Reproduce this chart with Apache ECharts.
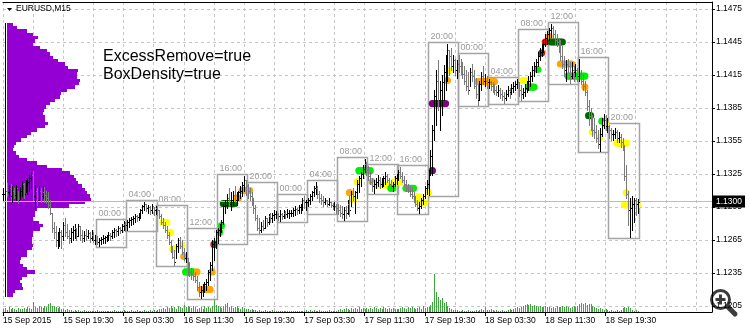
<!DOCTYPE html>
<html><head><meta charset="utf-8">
<script src="https://cdn.jsdelivr.net/npm/echarts@6/dist/echarts.min.js"></script>
<style>html,body{margin:0;padding:0;background:#fff}#c{width:750px;height:329px}</style>
</head><body><div id="c"></div>
<script>
// ---------- data ----------
const timeLabels = ['15 Sep 2015','15 Sep 19:30','16 Sep 03:30','16 Sep 11:30','16 Sep 19:30','17 Sep 03:30','17 Sep 11:30','17 Sep 19:30','18 Sep 03:30','18 Sep 11:30','18 Sep 19:30'];
const labelBars = [0,32,64,96,128,160,192,224,256,288,320];
const boxLabels = ['00:00','04:00','08:00','12:00','16:00','20:00','00:00','04:00','08:00','12:00','16:00','20:00','00:00','04:00','08:00','12:00','16:00','20:00'];
const boxFirstBar = 50, barsPerBox = 16;
const lastPrice = 1.1300;
const priceMin = 1.1205, priceMax = 1.1475, priceStep = 0.003;

const highs = [
1.1312,1.1314,1.1317,1.1315,1.1316,1.1314,1.1312,1.1315,1.1310,1.1313,
1.1319,1.1317,1.1320,1.1321,1.1324,1.1327,1.1328,1.1315,1.1312,1.1314,
1.1312,1.1314,1.1313,1.1310,1.1309,1.1301,1.1290,1.1281,1.1278,1.1272,
1.1276,1.1274,1.1281,1.1285,1.1280,1.1274,1.1276,1.1278,1.1280,1.1276,
1.1280,1.1278,1.1274,1.1273,1.1275,1.1274,1.1272,1.1274,1.1272,1.1270,
1.1269,1.1267,1.1268,1.1270,1.1269,1.1270,1.1272,1.1271,1.1274,1.1276,
1.1275,1.1278,1.1277,1.1280,1.1282,1.1281,1.1283,1.1285,1.1286,1.1287,
1.1289,1.1288,1.1290,1.1293,1.1297,1.1300,1.1298,1.1297,1.1296,1.1298,
1.1295,1.1296,1.1295,1.1292,1.1289,1.1285,1.1281,1.1278,1.1272,1.1265,
1.1260,1.1256,1.1261,1.1267,1.1268,1.1265,1.1258,1.1254,1.1249,1.1245,
1.1240,1.1238,1.1236,1.1232,1.1227,1.1223,1.1225,1.1227,1.1230,1.1238,
1.1245,1.1265,1.1267,1.1274,1.1276,1.1280,1.1283,1.1298,1.1301,1.1307,
1.1312,1.1309,1.1310,1.1314,1.1309,1.1310,1.1314,1.1318,1.1323,1.1320,
1.1316,1.1312,1.1309,1.1303,1.1297,1.1288,1.1285,1.1281,1.1283,1.1287,
1.1285,1.1289,1.1290,1.1290,1.1292,1.1291,1.1290,1.1292,1.1290,1.1292,
1.1291,1.1293,1.1292,1.1292,1.1294,1.1296,1.1294,1.1297,1.1298,1.1303,
1.1305,1.1301,1.1303,1.1307,1.1310,1.1314,1.1318,1.1314,1.1310,1.1307,
1.1305,1.1303,1.1301,1.1303,1.1300,1.1299,1.1300,1.1298,1.1298,1.1297,
1.1296,1.1295,1.1296,1.1301,1.1305,1.1310,1.1312,1.1310,1.1320,1.1323,
1.1327,1.1333,1.1339,1.1336,1.1332,1.1327,1.1321,1.1320,1.1321,1.1324,
1.1322,1.1321,1.1323,1.1327,1.1325,1.1321,1.1320,1.1318,1.1323,1.1325,
1.1329,1.1331,1.1327,1.1323,1.1320,1.1316,1.1314,1.1312,1.1309,1.1305,
1.1301,1.1300,1.1303,1.1307,1.1314,1.1320,1.1329,1.1347,1.1370,1.1401,
1.1420,1.1429,1.1410,1.1415,1.1424,1.1433,1.1443,1.1438,1.1440,1.1433,
1.1430,1.1429,1.1433,1.1430,1.1427,1.1423,1.1420,1.1418,1.1421,1.1425,
1.1420,1.1412,1.1407,1.1410,1.1418,1.1423,1.1416,1.1414,1.1411,1.1410,
1.1409,1.1407,1.1405,1.1406,1.1403,1.1401,1.1400,1.1401,1.1405,1.1403,
1.1407,1.1409,1.1410,1.1411,1.1409,1.1406,1.1403,1.1407,1.1410,1.1414,
1.1418,1.1423,1.1427,1.1430,1.1436,1.1440,1.1443,1.1447,1.1452,1.1455,
1.1458,1.1461,1.1460,1.1456,1.1452,1.1449,1.1447,1.1441,1.1432,1.1429,
1.1430,1.1427,1.1427,1.1423,1.1425,1.1421,1.1430,1.1420,1.1416,1.1410,
1.1401,1.1392,1.1385,1.1379,1.1376,1.1370,1.1365,1.1367,1.1376,1.1380,
1.1379,1.1376,1.1370,1.1367,1.1365,1.1367,1.1365,1.1363,1.1361,1.1358,
1.1351,1.1333,1.1310,1.1303,1.1305,1.1303,1.1303,1.1302];

const lows = [
1.1301,1.1303,1.1305,1.1304,1.1301,1.1300,1.1303,1.1301,1.1299,1.1302,
1.1305,1.1303,1.1309,1.1307,1.1310,1.1312,1.1301,1.1294,1.1297,1.1301,
1.1300,1.1303,1.1300,1.1299,1.1294,1.1289,1.1272,1.1267,1.1260,1.1258,
1.1260,1.1258,1.1265,1.1269,1.1267,1.1262,1.1263,1.1265,1.1267,1.1265,
1.1269,1.1265,1.1263,1.1264,1.1265,1.1267,1.1263,1.1265,1.1263,1.1261,
1.1261,1.1260,1.1261,1.1262,1.1262,1.1264,1.1265,1.1265,1.1267,1.1268,
1.1269,1.1270,1.1271,1.1272,1.1274,1.1273,1.1274,1.1277,1.1279,1.1280,
1.1281,1.1282,1.1283,1.1285,1.1290,1.1292,1.1291,1.1290,1.1289,1.1290,
1.1288,1.1289,1.1288,1.1285,1.1280,1.1276,1.1272,1.1267,1.1261,1.1254,
1.1249,1.1242,1.1249,1.1254,1.1258,1.1252,1.1247,1.1245,1.1233,1.1232,
1.1230,1.1229,1.1227,1.1220,1.1214,1.1212,1.1214,1.1218,1.1220,1.1224,
1.1229,1.1238,1.1247,1.1258,1.1262,1.1269,1.1272,1.1280,1.1290,1.1294,
1.1296,1.1292,1.1297,1.1300,1.1297,1.1301,1.1303,1.1305,1.1310,1.1306,
1.1303,1.1301,1.1297,1.1290,1.1283,1.1274,1.1271,1.1272,1.1274,1.1276,
1.1278,1.1280,1.1281,1.1281,1.1283,1.1285,1.1283,1.1282,1.1284,1.1285,
1.1285,1.1286,1.1285,1.1287,1.1287,1.1288,1.1289,1.1290,1.1290,1.1292,
1.1294,1.1292,1.1296,1.1298,1.1301,1.1305,1.1307,1.1303,1.1300,1.1298,
1.1296,1.1298,1.1296,1.1297,1.1295,1.1293,1.1292,1.1290,1.1289,1.1287,
1.1285,1.1283,1.1285,1.1289,1.1287,1.1296,1.1301,1.1290,1.1303,1.1309,
1.1314,1.1321,1.1327,1.1324,1.1320,1.1316,1.1310,1.1308,1.1312,1.1314,
1.1312,1.1313,1.1314,1.1316,1.1318,1.1314,1.1311,1.1310,1.1314,1.1316,
1.1320,1.1321,1.1318,1.1314,1.1310,1.1309,1.1305,1.1303,1.1300,1.1296,
1.1292,1.1290,1.1294,1.1298,1.1303,1.1307,1.1306,1.1324,1.1324,1.1356,
1.1370,1.1383,1.1365,1.1379,1.1392,1.1401,1.1410,1.1415,1.1420,1.1418,
1.1415,1.1412,1.1418,1.1416,1.1412,1.1407,1.1401,1.1398,1.1405,1.1410,
1.1403,1.1394,1.1388,1.1392,1.1401,1.1407,1.1405,1.1403,1.1403,1.1401,
1.1400,1.1398,1.1397,1.1396,1.1394,1.1392,1.1390,1.1392,1.1396,1.1394,
1.1398,1.1400,1.1401,1.1403,1.1396,1.1392,1.1394,1.1396,1.1400,1.1401,
1.1405,1.1410,1.1414,1.1418,1.1423,1.1429,1.1432,1.1436,1.1441,1.1443,
1.1447,1.1450,1.1449,1.1443,1.1441,1.1436,1.1429,1.1421,1.1414,1.1410,
1.1418,1.1408,1.1412,1.1410,1.1414,1.1410,1.1410,1.1407,1.1401,1.1397,
1.1383,1.1370,1.1365,1.1360,1.1358,1.1354,1.1349,1.1346,1.1360,1.1367,
1.1365,1.1363,1.1358,1.1356,1.1356,1.1358,1.1354,1.1354,1.1350,1.1347,
1.1320,1.1303,1.1279,1.1268,1.1274,1.1281,1.1288,1.1290];

const closes = [
1.1307,1.1310,1.1309,1.1312,1.1305,1.1310,1.1306,1.1312,1.1301,1.1310,
1.1316,1.1307,1.1316,1.1318,1.1321,1.1324,1.1305,1.1310,1.1301,1.1310,
1.1305,1.1309,1.1306,1.1303,1.1297,1.1290,1.1276,1.1272,1.1265,1.1267,
1.1272,1.1269,1.1279,1.1272,1.1269,1.1267,1.1272,1.1274,1.1276,1.1269,
1.1278,1.1270,1.1267,1.1270,1.1269,1.1271,1.1267,1.1270,1.1265,1.1265,
1.1263,1.1265,1.1266,1.1267,1.1268,1.1269,1.1270,1.1269,1.1272,1.1274,
1.1273,1.1276,1.1274,1.1278,1.1280,1.1279,1.1281,1.1283,1.1284,1.1285,
1.1287,1.1286,1.1290,1.1292,1.1296,1.1298,1.1294,1.1295,1.1292,1.1296,
1.1292,1.1294,1.1292,1.1287,1.1281,1.1279,1.1274,1.1270,1.1263,1.1256,
1.1250,1.1245,1.1260,1.1265,1.1260,1.1254,1.1249,1.1249,1.1238,1.1236,
1.1234,1.1232,1.1229,1.1222,1.1218,1.1220,1.1221,1.1225,1.1227,1.1236,
1.1242,1.1261,1.1263,1.1272,1.1274,1.1278,1.1281,1.1296,1.1297,1.1303,
1.1298,1.1301,1.1306,1.1301,1.1305,1.1309,1.1310,1.1315,1.1320,1.1314,
1.1310,1.1305,1.1300,1.1294,1.1285,1.1276,1.1274,1.1278,1.1276,1.1285,
1.1281,1.1287,1.1285,1.1288,1.1289,1.1289,1.1287,1.1289,1.1287,1.1290,
1.1289,1.1290,1.1290,1.1290,1.1292,1.1293,1.1292,1.1295,1.1297,1.1301,
1.1300,1.1300,1.1301,1.1305,1.1309,1.1312,1.1312,1.1307,1.1303,1.1301,
1.1300,1.1301,1.1298,1.1300,1.1297,1.1296,1.1296,1.1294,1.1292,1.1290,
1.1289,1.1292,1.1290,1.1298,1.1292,1.1307,1.1305,1.1309,1.1316,1.1321,
1.1325,1.1330,1.1334,1.1329,1.1323,1.1318,1.1314,1.1316,1.1318,1.1320,
1.1316,1.1320,1.1321,1.1323,1.1320,1.1316,1.1314,1.1316,1.1321,1.1323,
1.1327,1.1323,1.1320,1.1316,1.1312,1.1310,1.1307,1.1305,1.1301,1.1298,
1.1294,1.1296,1.1301,1.1305,1.1312,1.1316,1.1325,1.1341,1.1365,1.1396,
1.1410,1.1392,1.1401,1.1409,1.1418,1.1427,1.1438,1.1432,1.1423,1.1429,
1.1420,1.1425,1.1423,1.1420,1.1416,1.1410,1.1405,1.1401,1.1418,1.1414,
1.1405,1.1398,1.1392,1.1407,1.1414,1.1410,1.1410,1.1409,1.1409,1.1405,
1.1403,1.1401,1.1400,1.1401,1.1398,1.1396,1.1394,1.1398,1.1401,1.1400,
1.1403,1.1405,1.1407,1.1409,1.1401,1.1398,1.1400,1.1403,1.1407,1.1410,
1.1414,1.1420,1.1423,1.1427,1.1432,1.1436,1.1440,1.1443,1.1449,1.1452,
1.1456,1.1458,1.1452,1.1447,1.1445,1.1440,1.1432,1.1425,1.1420,1.1425,
1.1423,1.1414,1.1420,1.1418,1.1420,1.1414,1.1416,1.1410,1.1405,1.1400,
1.1387,1.1378,1.1374,1.1365,1.1363,1.1358,1.1352,1.1361,1.1370,1.1374,
1.1369,1.1369,1.1365,1.1361,1.1361,1.1363,1.1358,1.1359,1.1354,1.1350,
1.1323,1.1307,1.1292,1.1294,1.1298,1.1301,1.1298,1.1300];

// tick volume (hundreds)
const volumes = [
3,4,2,5,3,4,3,2,4,3, 3,4,3,5,4,3, 10, 5,4,6,5,4,6,5, 8,9,6, 6,5,4,5,3,
3,2,3,2,2,1,2,1,2,
1,1,2,1,1,1,1,1,1,2,1,1,1,1,1,1,1,1,2,1,1,1,1,2,1,
1,1,2,1,1,2,1,1,1,2,1,1,2,1,2,1,
2,3,3,4,3,5,4,6,4,5,3,6,5,4,7,5,
6,5,4,6,5,3,4,5,3,6,4,5,4,6,13,7,
6,5,4,6,8,9,5,6,4,5,6,4,3,5,4,3,
3,2,3,2,2,1,2,1,1,2,1,1,1,2,1,1,
1,1,1,1,1,1,1,1,1,1,1,1,1,1,1,2,
1,2,1,2,1,1,2,1,1,1,1,2,1,1,1,1,
2,3,2,3,4,3,2,4,3,4,3,5,3,4,3,4,
3,4,3,5,4,3,4,3,5,4,3,4,3,4,3,3,
3,4,5,4,3,5,4,5,4,3,4,5,3,6,4,5,
5,7,10,38,20,15,12,14,9,10,6,4,3,2,2,2,
1,1,2,1,1,2,1,1,1,2,1,2,3,2,5,2,
2,3,2,1,2,1,1,2,1,1,2,3,2,3,4,5,
4,5,6,7,8,7,8,6,7,6,5,6,5,5,6,5,
5,4,5,4,6,5,5,6,5,6,5,4,5,6,5,6,
8,9,8,9,7,8,8,6,5,4,3,4,3,2,3,2,
1,2,1,1,2,1,2,4,5,4,5,4,2,1,2,1];

// volume profile (rows from top, price step 0.0003)
const profileTop = 1.1461, profileStep = 0.0003;
const profileLen = [
6,10,20,26,31,28,26,33,40,43,
46,51,58,61,71,70,70,73,72,68,
60,54,53,48,43,39,37,36,38,38,
41,38,30,24,20,14,9,7,6,9,
12,20,30,40,55,63,67,69,71,75,
78,80,83,84,78,62,30,28,28,26,
32,36,33,26,26,25,25,26,25,20,
20,14,13,16,20,28,20,15,13,15,
16,8,6];

// density markers: [firstBar, lastBar, price, colour]
const dotSegments = [
[85,87,1.1281,'yellow'],[89,89,1.1272,'yellow'],[90,91,1.1257,'yellow'],[94,95,1.1260,'yellow'],
[96,96,1.1250,'orange'],[97,101,1.1236,'green'],[103,103,1.1236,'orange'],[105,110,1.1220,'orange'],
[111,111,1.1236,'orange'],[112,112,1.1261,'red'],[115,115,1.1272,'green'],[116,116,1.1278,'green'],
[117,123,1.1298,'darkgreen'],[124,125,1.1303,'orange'],[127,131,1.1310,'orange'],
[184,184,1.1308,'orange'],[186,186,1.1302,'yellow'],[188,188,1.1318,'yellow'],[189,195,1.1328,'green'],
[196,196,1.1318,'orange'],[198,204,1.1315,'yellow'],[206,207,1.1312,'green'],[208,211,1.1318,'yellow'],
[214,218,1.1312,'green'],[219,221,1.1304,'yellow'],[221,224,1.1299,'yellow'],[226,226,1.1308,'yellow'],
[228,228,1.1328,'purple'],[228,235,1.1389,'purple'],[236,236,1.1410,'orange'],[237,237,1.1419,'yellow'],
[252,261,1.1409,'orange'],[276,278,1.1410,'yellow'],[279,282,1.1404,'green'],[284,284,1.1420,'green'],
[286,286,1.1435,'red'],[288,288,1.1445,'red'],[290,290,1.1450,'orange'],[291,297,1.1445,'darkgreen'],
[296,302,1.1425,'orange'],[300,309,1.1414,'green'],[309,309,1.1404,'orange'],[311,312,1.1378,'darkgreen'],
[313,313,1.1363,'yellow'],[317,317,1.1358,'yellow'],[318,318,1.1373,'green'],[320,320,1.1370,'yellow'],
[326,331,1.1353,'yellow'],[331,331,1.1308,'yellow'],[330,337,1.1297,'yellow']];
const dotColors = {yellow:'#ffff00',orange:'#ffa500',green:'#00ee00',darkgreen:'#006400',red:'#ff0000',purple:'#800080'};

// ---------- derived tables ----------
const barData = highs.map((h,i)=>[i, i>0?closes[i-1]:closes[0], h, lows[i], closes[i]]);
const volData = volumes.map((v,i)=>[i,v]);
const profileData = profileLen.map((v,k)=>[v, profileTop - k*profileStep]);
const boxData = boxLabels.map((lab,k)=>{
  const s = boxFirstBar + k*barsPerBox, e = Math.min(s+barsPerBox-1, highs.length-1);
  let hi=-Infinity, lo=Infinity;
  for(let i=s;i<=e;i++){hi=Math.max(hi,highs[i]);lo=Math.min(lo,lows[i]);}
  return [s,e,hi,lo,k];
});
const dotData = [];
dotSegments.forEach(seg=>{for(let i=seg[0];i<=seg[1];i++) dotData.push([i, seg[2], Object.keys(dotColors).indexOf(seg[3])]);});
const colorKeys = Object.keys(dotColors);
const xMax = 376.5;
const FONT = 'Liberation Sans';

const chart = echarts.init(document.getElementById('c'), null, {renderer:'canvas'});

function renderBar(params, api){
  const i=api.value(0), o=api.value(1), h=api.value(2), l=api.value(3), c=api.value(4);
  const pH=api.coord([i,h]), pL=api.coord([i,l]), pO=api.coord([i,o]), pC=api.coord([i,c]);
  const x=Math.round(pH[0]);
  const col = c>=o ? '#000000' : '#7a7a7a';
  const yH=Math.round(pH[1]), yL=Math.round(pL[1]);
  return {type:'group', children:[
    {type:'rect', shape:{x:x, y:yH, width:1, height:Math.max(1,yL-yH+1)}, style:{fill:col}},
    {type:'rect', shape:{x:x-1, y:Math.round(pO[1]), width:1, height:1}, style:{fill:col}},
    {type:'rect', shape:{x:x+1, y:Math.round(pC[1]), width:1, height:1}, style:{fill:col}}
  ]};
}
function renderVol(params, api){
  const p1=api.coord([api.value(0), api.value(1)]), p0=api.coord([api.value(0),0]);
  const x=Math.round(p1[0]);
  return {type:'rect', shape:{x:x, y:Math.round(p1[1]), width:1, height:Math.round(p0[1])-Math.round(p1[1])}, style:{fill:'#3fa53f'}};
}
function renderProfile(params, api){
  const v=api.value(0), p=api.value(1);
  const a=api.coord([0, p+profileStep/2]), b=api.coord([v, p-profileStep/2]);
  const y0=Math.round(a[1]), y1=Math.round(b[1]);
  return {type:'rect', shape:{x:Math.round(a[0]), y:y0, width:Math.round(b[0])-Math.round(a[0]), height:y1-y0}, style:{fill:'#9400d3'}};
}
function renderProfileBase(params, api){
  const a=api.coord([-2, api.value(0)]), b=api.coord([-2, api.value(1)]);
  return {type:'rect', shape:{x:Math.round(a[0]), y:Math.round(a[1]), width:1, height:Math.round(b[1])-Math.round(a[1])}, style:{fill:'#000'}};
}
function renderBox(params, api){
  const s=api.value(0), e=api.value(1), hi=api.value(2), lo=api.value(3), k=api.value(4);
  const a=api.coord([s,hi]), b=api.coord([e,lo]);
  const x0=Math.round(a[0])-0.5, x1=Math.round(b[0])+1.5, y0=Math.round(a[1])-1.5, y1=Math.round(b[1])+1.5;
  return {type:'group', children:[
    {type:'rect', shape:{x:x0, y:y0, width:x1-x0, height:y1-y0}, style:{fill:'none', stroke:'#a4a4a4', lineWidth:1.5}},
    {type:'text', x:x0+2, y:y0-1.5, style:{text:boxLabels[k], fill:'#9a9a9a', fontSize:9, fontFamily:FONT, align:'left', verticalAlign:'bottom'}}
  ]};
}
function renderDot(params, api){
  const p=api.coord([api.value(0), api.value(1)]);
  return {type:'circle', shape:{cx:p[0], cy:p[1], r:3.6}, style:{fill:dotColors[colorKeys[api.value(2)]]}};
}

const option = {
  animation:false,
  backgroundColor:'#ffffff',
  textStyle:{fontFamily:FONT},
  grid:[
    {left:3, right:38, top:9, bottom:23, outerBoundsMode:'none', containLabel:false},
    {left:3, right:38, top:2, bottom:17, outerBoundsMode:'none', containLabel:false}
  ],
  xAxis:[
    {gridIndex:0, type:'value', min:0, max:xMax, show:false},
    {gridIndex:1, type:'value', min:0, max:xMax, position:'bottom',
      axisLine:{show:true, onZero:false, lineStyle:{color:'#000', width:1}},
      axisTick:{show:true, customValues:labelBars, length:4, lineStyle:{color:'#000', width:1}},
      axisLabel:{show:true, customValues:labelBars, formatter:(v)=>timeLabels[labelBars.indexOf(Math.round(v))]||'',
        align:'left', margin:4, fontSize:8.5, color:'#000', fontFamily:FONT, hideOverlap:false},
      splitLine:{show:false}},
    {gridIndex:0, type:'value', min:-4, max:705, show:false},
    {gridIndex:1, type:'value', min:0, max:xMax, interval:16, position:'top',
      axisLine:{show:true, onZero:false, lineStyle:{color:'#000', width:1}},
      axisTick:{show:false}, axisLabel:{show:false},
      splitLine:{show:true, lineStyle:{color:'#c6c6c6', type:[3,3], width:1}}}
  ],
  yAxis:[
    {gridIndex:0, type:'value', min:priceMin, max:priceMax, interval:priceStep, position:'right',
      axisLine:{show:false, onZero:false},
      axisTick:{show:true, length:3, lineStyle:{color:'#000'}},
      axisLabel:{show:true, formatter:(v)=>v.toFixed(4), margin:4, fontSize:8.5, color:'#000', fontFamily:FONT},
      splitLine:{show:true, lineStyle:{color:'#c6c6c6', type:[3,3], width:1}}},
    {gridIndex:1, type:'value', min:0, max:310, position:'right',
      axisLine:{show:true, onZero:false, lineStyle:{color:'#000', width:1}},
      axisTick:{show:false}, axisLabel:{show:false}, splitLine:{show:false}}
  ],
  series:[
    {type:'custom', name:'profile', xAxisIndex:2, yAxisIndex:0, data:profileData, renderItem:renderProfile, z:2, silent:true},
    {type:'custom', name:'profileBase', xAxisIndex:2, yAxisIndex:0,
      data:[[profileTop+profileStep/2, profileTop-(profileLen.length-1)*profileStep-profileStep/2]], renderItem:renderProfileBase, z:2, silent:true},
    {type:'custom', name:'volume', xAxisIndex:1, yAxisIndex:1, data:volData, renderItem:renderVol, z:2, silent:true},
    {type:'custom', name:'boxes', xAxisIndex:0, yAxisIndex:0, data:boxData, renderItem:renderBox, z:3, silent:true},
    {type:'custom', name:'dots', xAxisIndex:0, yAxisIndex:0, data:dotData, renderItem:renderDot, z:4, silent:true},
    {type:'custom', name:'bars', xAxisIndex:0, yAxisIndex:0, data:barData, renderItem:renderBar, z:5, silent:true},
    {type:'line', name:'last', xAxisIndex:0, yAxisIndex:0, data:[[barData.length-1, lastPrice]], showSymbol:false, symbol:'none',
      lineStyle:{width:0}, z:1, silent:true,
      markLine:{silent:true, symbol:['none','none'], animation:false,
        data:[{yAxis:lastPrice}],
        lineStyle:{color:'#bdbdbd', type:'solid', width:1},
        label:{show:true, position:'end', distance:1, formatter:lastPrice.toFixed(4), color:'#fff', backgroundColor:'#000',
          padding:[2,3,1,3], fontSize:8.5, fontFamily:FONT}},
    }
  ],
  graphic:[
    {type:'polygon', shape:{points:[[7,8],[12,8],[9.5,11]]}, style:{fill:'#000'}, z:10},
    {type:'text', left:16, top:4, style:{text:'EURUSD,M15', fill:'#000', fontSize:8.5, fontFamily:FONT}, z:10},
    {type:'text', left:103, top:49, style:{text:'ExcessRemove=true', fill:'#000', fontSize:16, fontFamily:FONT}, z:10},
    {type:'text', left:103, top:67, style:{text:'BoxDensity=true', fill:'#000', fontSize:16, fontFamily:FONT}, z:10},
    {type:'group', z:20, children:[
      {type:'line', shape:{x1:727, y1:306, x2:735, y2:314}, style:{stroke:'#3c3c3c', lineWidth:5, lineCap:'round'}},
      {type:'circle', shape:{cx:720.5, cy:299.5, r:9}, style:{fill:'#ffffff', stroke:'#3c3c3c', lineWidth:3}},
      {type:'rect', shape:{x:715.5, y:298, width:10, height:3}, style:{fill:'#3c3c3c'}},
      {type:'rect', shape:{x:719, y:294.5, width:3, height:10}, style:{fill:'#3c3c3c'}}
    ]}
  ]
};
chart.setOption(option);
</script>
</body></html>
